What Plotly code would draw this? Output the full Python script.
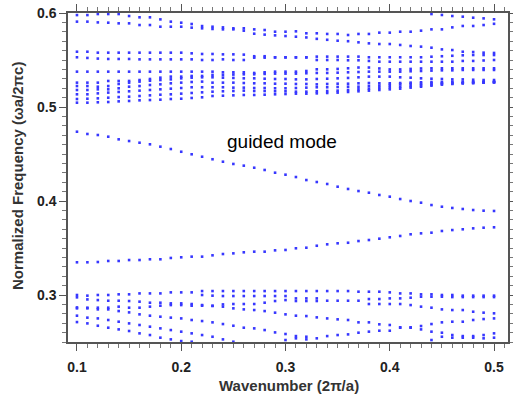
import plotly.graph_objects as go

# Wavenumber samples (2π/a)
k = [0.10, 0.11, 0.12, 0.13, 0.14, 0.15, 0.16, 0.17, 0.18, 0.19,
     0.20, 0.21, 0.22, 0.23, 0.24, 0.25, 0.26, 0.27, 0.28, 0.29,
     0.30, 0.31, 0.32, 0.33, 0.34, 0.35, 0.36, 0.37, 0.38, 0.39,
     0.40, 0.41, 0.42, 0.43, 0.44, 0.45, 0.46, 0.47, 0.48, 0.49, 0.50]

# ---- guided modes ----
guided_upper = [.4737, .4713, .4702, .4684, .4656, .4638, .4620, .4603, .4578, .4553,
                .4524, .4497, .4471, .4444, .4418, .4394, .4376, .4354, .4330, .4301,
                .4280, .4255, .4223, .4202, .4181, .4152, .4128, .4106, .4088, .4064,
                .4046, .4021, .4000, .3982, .3957, .3939, .3926, .3915, .3904, .3897, .3894]
guided_lower = [.3348, .3348, .3351, .3362, .3362, .3372, .3372, .3380, .3380, .3394,
                .3401, .3408, .3408, .3422, .3436, .3443, .3454, .3461, .3461, .3475,
                .3479, .3497, .3503, .3524, .3539, .3550, .3556, .3574, .3585, .3599,
                .3614, .3628, .3646, .3656, .3663, .3681, .3691, .3699, .3709, .3716, .3720]

# ---- lower bulk bands ----
low_a = [.3000, .2993, .3000, .3000, .3007, .3007, .3017, .3017, .3017, .3028, .3028, .3028, .3042, .3042,
         .3042, .3042, .3042, .3042, .3042, .3042, .3042, .3042, .3042, .3042, .3042, .3042, .3042, .3035,
         .3035, .3035, .3028, .3017, .3017, .3007, .3007, .3000, .3000, .2993, .2993, .2993, .2993]
low_b = [.2975, .2953, .2946, .2939, .2939, .2936, .2929, .2918, .2918, .2911, .2911, .2904, .3000, .2993,
         .2989, .2989, .2989, .2989, .2989, .2989, .2989, .2964, .2964, .2964, .2939, .2939, .2939, .2939,
         .2957, .2957, .2964, .2964, .2971, .2982, .2982, .2982, .2978, .2978, .2978, .2978, .2978]
low_c = [.2868, .2865, .2865, .2865, .2876, .2865, .2865, .2876, .2886, .2893, .2893, .2886, .2893, .2886,
         .2900, .2904, .2904, .2904, .2918, .2936, .2946, .2936, .2936, .2936, None, None, None, None,
         .2904, .2904, .2904, .2904, .2893, .2876, .2865, .2847, .2840, .2840, .2822, .2812, .2805]
low_d = [.2858, .2858, .2847, .2847, .2829, .2815, .2794, .2780, .2769, .2759, .2751, .2734, .2723, .2709,
         .2691, .2673, .2652, .2645, .2627, .2602, .2585, .2563, .2556, .2539, .2563, .2574, .2581, .2599,
         .2610, .2620, .2620, .2652, .2652, .2634, .2610, .2599, .2574, .2563, .2563, .2574, .2592]
low_e = [.2780, .2759, .2751, .2734, .2716, .2698, .2681, .2663, .2645, .2627, .2610, .2592, .2574, .2556,
         .2528, .2503, None, None, None, None, .2521, .2539, .2528, None, None, None, None, None,
         None, None, None, None, None, None, .2521, .2556, .2546, .2546, .2546, .2539, .2546]
low_f = [.2712, .2698, .2673, .2652, .2634, .2617, .2592, .2574, .2546, .2528, .2510, .2503,
         None, None, None, None, None, None, None, None, None, None, None, None, None, None,
         None, None, None, None, None, None, None, None, None, None, None, None, None, None, None]
low_g = [None, None, None, None, None, None, None, None, None, None, None, None, .2886, .2883,
         .2876, .2858, .2847, .2840, .2829, .2812, .2794, .2780, .2776, .2762, .2751, .2741, .2734, .2709,
         .2709, .2688, .2681, .2656, .2656, .2670, .2691, .2709, .2716, .2716, .2734, .2744, .2751]

# ---- upper bulk bands ----
up_top = [None, None, None, None, None, None, None, None, None, None, None, None, None, None,
          None, None, None, None, None, None, None, None, None, None, None, None, None, None,
          None, None, None, None, None, None, .5989, .5979, .5968, .5961, .5950, .5943, .5933]
up_1 = [.5978, .5978, .5989, .5989, .5989, .5968, .5954, .5954, .5932, .5908, .5897, .5883, .5861, .5854,
        .5847, .5837, .5837, .5826, .5819, .5801, .5801, .5805, .5784, .5784, .5777, .5777, .5766, .5777,
        .5777, .5791, .5791, .5801, .5801, .5812, .5826, .5826, .5847, .5862, .5862, .5872, .5885]
up_2 = [.5908, .5908, .5900, .5897, .5890, .5890, .5872, .5872, .5854, .5854, .5854, .5844, .5837, .5830,
        .5826, .5826, .5812, .5780, .5770, .5762, .5755, .5748, .5740, .5725, .5715, .5705, .5700, .5688,
        .5677, .5670, .5670, .5660, .5649, .5642, .5631, .5613, .5606, .5588, .5585, .5578, .5575]
up_3 = [.5588, .5588, .5578, .5578, .5578, .5578, .5578, .5578, .5578, .5578, .5578, .5571, .5564, .5564,
        .5560, .5560, .5557, .5540, .5540, .5528, .5528, .5528, .5528, .5536, .5536, .5536, .5536, .5536,
        .5529, .5529, .5529, .5529, .5529, .5529, .5535, .5540, .5545, .5550, .5553, .5553, .5553]
up_4 = [.5529, .5522, .5515, .5511, .5511, .5511, .5507, .5507, .5507, .5507, .5507, .5507, .5500, .5500,
        .5507, .5500, .5500, .5525, .5525, .5528, .5528, .5528, .5528, .5500, .5500, .5500, .5497, .5497,
        .5490, .5482, .5482, .5482, .5482, .5482, .5482, .5482, .5482, .5490, .5490, .5495, .5500]
up_5 = [.5376, .5376, .5376, .5376, .5376, .5376, .5376, .5376, .5376, .5376, .5376, .5376, .5376, .5376,
        .5369, .5369, .5369, .5362, .5369, .5376, .5376, .5376, .5383, .5401, .5401, .5405, .5412, .5420,
        .5420, .5410, .5400, .5400, .5405, .5410, .5412, .5412, .5412, .5412, .5412, .5412, .5412]
up_6 = [.5259, .5259, .5259, .5277, .5277, .5277, .5287, .5298, .5312, .5323, .5323, .5330, .5330, .5341,
        .5341, .5345, .5348, .5348, .5352, .5355, .5355, .5355, .5359, .5362, .5362, .5365, .5369, .5372,
        .5376, .5376, .5376, .5376, .5380, .5383, .5387, .5390, .5390, .5394, .5394, .5394, .5394]
up_7 = [.5223, .5223, .5216, .5223, .5245, .5259, .5270, .5280, .5287, .5294, .5305, .5312, .5316, .5316,
        .5312, .5309, .5305, .5305, .5301, .5298, .5298, .5294, .5294, .5298, .5301, .5305, .5309, .5316,
        .5323, .5323, .5323, .5316, .5312, .5305, .5301, .5298, .5294, .5294, .5290, .5287, .5287]
up_8 = [.5181, .5181, .5188, .5188, .5199, .5216, .5223, .5234, .5241, .5252, .5259, .5266, .5270, .5259,
        .5259, .5259, .5255, .5252, .5252, .5248, .5248, .5245, .5245, .5241, .5245, .5248, .5248, .5252,
        .5255, .5252, .5252, .5255, .5259, .5263, .5266, .5266, .5269, .5269, .5269, .5269, .5269]
up_9 = [.5135, .5135, .5145, .5153, .5160, .5167, .5174, .5181, .5188, .5195, .5202, .5210, .5210, .5210,
        .5210, .5206, .5206, .5202, .5202, .5199, .5199, .5202, .5206, .5210, .5210, .5213, .5216, .5216,
        .5223, .5227, .5234, .5241, .5245, .5248, .5252, .5255, .5259, .5259, .5263, .5263, .5266]
up_10 = [.5085, .5088, .5092, .5099, .5106, .5110, .5117, .5124, .5131, .5135, .5142, .5149, .5156, .5163,
         .5167, .5170, .5174, .5170, .5170, .5167, .5167, .5163, .5163, .5167, .5170, .5174, .5181, .5188,
         .5195, .5202, .5210, .5216, .5223, .5230, .5238, .5245, .5248, .5252, .5255, .5259, .5262]
up_11 = [.5046, .5046, .5050, .5053, .5060, .5064, .5071, .5074, .5078, .5085, .5088, .5096, .5103, .5117,
         .5120, .5124, .5128, .5128, .5131, .5135, .5138, .5142, .5142, .5145, .5149, .5153, .5160, .5167,
         .5174, .5181, .5188, .5195, .5206, .5216, .5227, .5238, .5245, .5252, .5255, .5259, .5262]

bands = [guided_upper, guided_lower,
         low_a, low_b, low_c, low_d, low_e, low_f, low_g,
         up_top, up_1, up_2, up_3, up_4, up_5, up_6, up_7, up_8, up_9, up_10, up_11]

x_ticks = [0.1, 0.2, 0.3, 0.4, 0.5]
y_ticks = [0.3, 0.4, 0.5, 0.6]

fig = go.Figure()
for b in bands:
    fig.add_trace(go.Scatter(
        x=k, y=b, mode="markers",
        marker=dict(symbol="square", size=2.6, color="rgb(55,55,255)", line=dict(width=0)),
        showlegend=False, hoverinfo="skip"))

axis_common = dict(
    showgrid=False, zeroline=False, showline=True, linecolor="#555555", linewidth=1.5,
    mirror="allticks", ticks="outside", ticklen=7, tickwidth=1.2, tickcolor="#555555",
    automargin=False,
    tickfont=dict(family="Liberation Sans, Arial", size=14, color="#222222", weight="bold"),
)

fig.update_xaxes(range=[0.0914, 0.5134], tickvals=x_ticks, ticktext=[f"{v:.1f}" for v in x_ticks],
                 ticklabelstandoff=4,
                 minor=dict(dtick=0.01, tick0=0, ticks="outside", ticklen=4, tickcolor="#777777", tickwidth=1),
                 **axis_common)
fig.update_yaxes(range=[0.25, 0.6], tickvals=y_ticks, ticktext=[f"{v:.1f}" for v in y_ticks],
                 minor=dict(dtick=0.01, tick0=0, ticks="outside", ticklen=4, tickcolor="#777777", tickwidth=1),
                 **axis_common)

fig.add_annotation(text="guided mode", xref="paper", yref="paper", x=(282 - 68) / 440, y=(342 - 141) / 329,
                   showarrow=False, xanchor="center", yanchor="middle",
                   font=dict(family="Liberation Sans, Arial", size=19, color="#000000"))
fig.add_annotation(text="Wavenumber (2π/a)", xref="paper", yref="paper", x=(289 - 68) / 440, y=-(386 - 342) / 329,
                   showarrow=False, xanchor="center", yanchor="middle",
                   font=dict(family="Liberation Sans, Arial", size=15, color="#333333", weight="bold"))
fig.add_annotation(text="Normalized Frequency (ωa/2πc)", xref="paper", yref="paper", x=-(68 - 17) / 440,
                   y=(342 - 176) / 329, textangle=-90, showarrow=False, xanchor="center", yanchor="middle",
                   font=dict(family="Liberation Sans, Arial", size=15, color="#333333", weight="bold"))

fig.update_layout(
    width=513, height=400,
    margin=dict(l=68, r=5, t=13, b=58, autoexpand=False),
    paper_bgcolor="white", plot_bgcolor="white",
    showlegend=False,
)

fig.write_html("out.html", config={"displayModeBar": False},
               post_script="document.body.style.margin='0px';")
